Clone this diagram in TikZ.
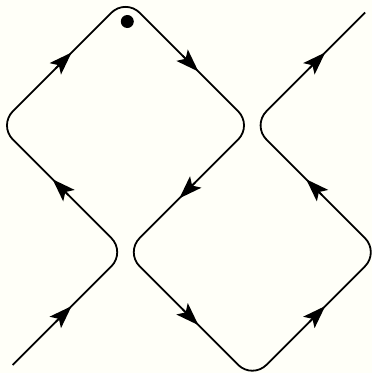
\documentclass[tikz,border=0pt]{standalone}
\usetikzlibrary{arrows.meta,calc}
\definecolor{bg}{RGB}{255,255,248}
\begin{document}
\begin{tikzpicture}[x=1pt,y=-1pt,
  knot/.style={line width=1.8pt, rounded corners=20pt, line join=round},
  arr/.style={line width=1.8pt,-{Stealth[length=23pt,width=16pt,inset=5pt]}},
  dotnode/.style={circle, fill=black, inner sep=0pt, minimum size=13pt}]
\fill[bg] (0,0) rectangle (372,373);
\useasboundingbox (0,0) rectangle (372,373);
% grid points g<i><j>, j upward
\coordinate (g00) at (-1.3,379);
\coordinate (g11) at (125.5,252.2);
\coordinate (g02) at (-1.3,125.4);
\coordinate (g13) at (125.5,-1.4);
\coordinate (g22) at (252.3,125.4);
\coordinate (g20) at (252.3,379);
\coordinate (g31) at (379.1,252.2);
\coordinate (g33) at (379.1,-1.4);
\coordinate (s) at ($(g00)!0.11!(g11)$);
\coordinate (e) at ($(g22)!0.89!(g33)$);
\draw[knot] (s) -- (g11) -- (g02) -- (g13) -- (g22) -- (g11) -- (g20) -- (g31) -- (g22) -- (e);
\foreach \p/\q in {g00/g11, g11/g02, g02/g13, g13/g22, g22/g11, g11/g20, g20/g31, g31/g22, g22/g33}
  \draw[arr] ($(\p)!0.45!(\q)$) -- ($(\p)!0.575!(\q)$);
\node[dotnode] (dot) at (127.3,21.5) {};
\end{tikzpicture}
\end{document}
